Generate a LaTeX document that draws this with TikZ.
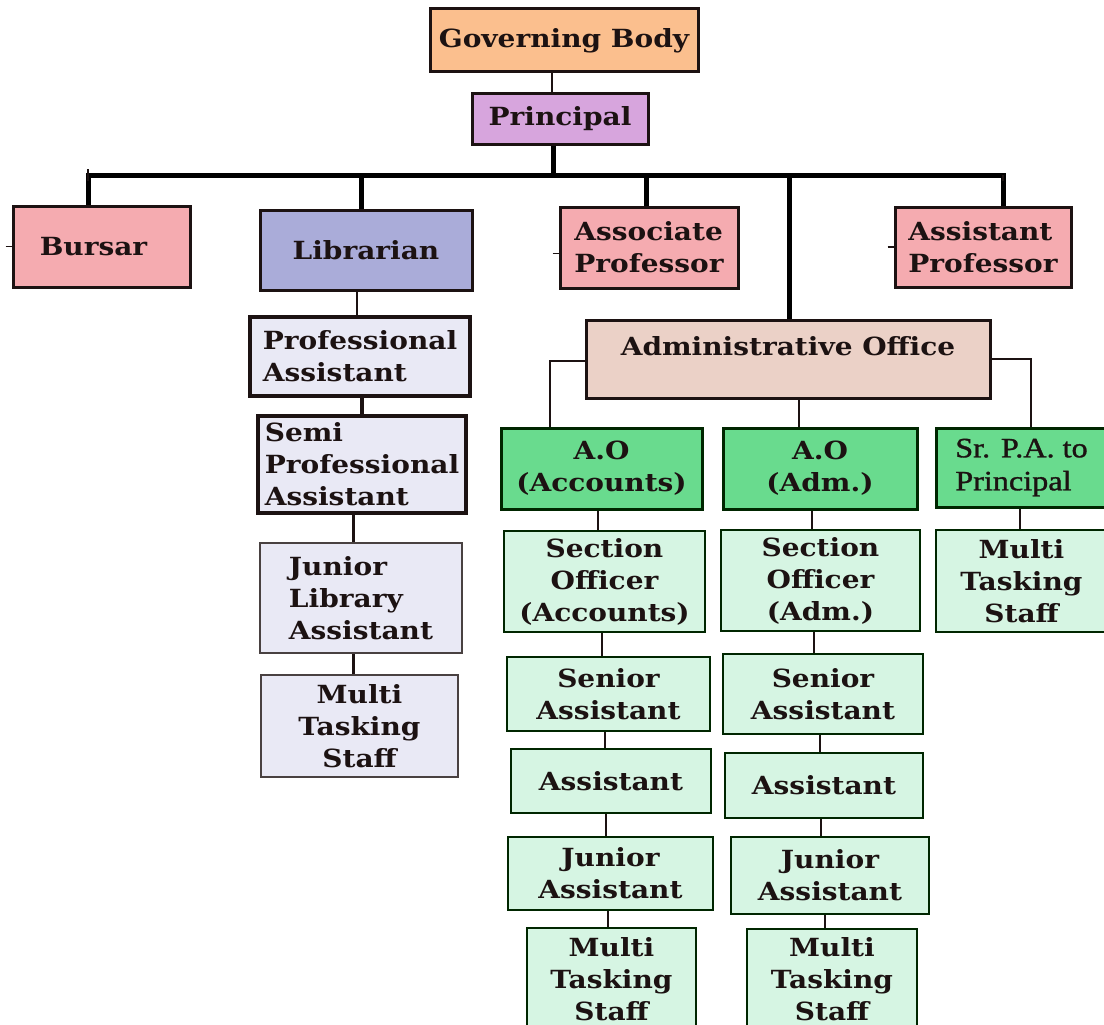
\documentclass[tikz,border=0pt]{standalone}
\usepackage{fontspec}
\setmainfont{DejaVu Serif}[FakeStretch=1.12]
\newfontfamily\tnr{Liberation Serif}[FakeStretch=1.15,FakeBold=1.2]
\definecolor{ink}{HTML}{1C1212}
\definecolor{peach}{HTML}{FBBF8E}
\definecolor{lavender}{HTML}{D7A5DD}
\definecolor{pinkbox}{HTML}{F5ABB0}
\definecolor{periw}{HTML}{AAACD9}
\definecolor{palelav}{HTML}{E9E9F5}
\definecolor{tanbox}{HTML}{EBD1C7}
\definecolor{greenbox}{HTML}{69DB8E}
\definecolor{mint}{HTML}{D6F5E3}
\newcommand\obox[7]{\node[#1,minimum width={(#5)-(#3)},minimum height={(#6)-(#4)}] (#2) at ({((#3)+(#5))/2},{((#4)+(#6))/2}) {#7};}
\tikzset{
  orgbox/.style={draw=ink, line width=3pt, inner sep=1pt, align=center, text=ink,
    font=\fontsize{25}{32}\selectfont\bfseries},
  libthick/.style={orgbox, fill=palelav, line width=4pt},
  libthin/.style={orgbox, fill=palelav, line width=2pt, draw=ink!80},
  greenb/.style={orgbox, fill=greenbox, draw=black!85!green},
  mintb/.style={orgbox, fill=mint, line width=2.6pt, draw=black!85!green},
  conn/.style={draw=ink, line width=2.5pt},
  thinconn/.style={draw=ink, line width=2pt},
  barline/.style={draw=black, line width=5pt},
  stub/.style={draw=ink, line width=1.5pt}
}
\begin{document}
\begin{tikzpicture}[x=1pt,y=-1pt]
\useasboundingbox (0,0) rectangle (1104,1025);
\fill[white] (0,0) rectangle (1104,1025);

% top
\obox{orgbox,fill=peach}{gb}{430}{9}{698}{72}{Governing Body}
\obox{orgbox,fill=lavender}{pr}{472}{94}{648}{144}{Principal}

% second level
\obox{orgbox,fill=pinkbox}{bur}{13}{206}{190}{287}{Bursar\hspace*{16pt}}
\obox{orgbox,fill=periw}{lib}{260}{210}{472}{290}{Librarian}
\obox{orgbox,fill=pinkbox,align=left}{asc}{560}{207}{738}{288}{Associate\\Professor}
\obox{orgbox,fill=pinkbox,align=left}{asp}{895}{207}{1071}{287}{Assistant\\Professor}
\obox{orgbox,fill=tanbox,text height=18pt,text depth=26pt}{adm}{586}{320}{990}{398}{Administrative Office}

% library column
\obox{libthick,align=left}{pa}{250}{317}{470}{396}{Professional\\Assistant}
\obox{libthick,align=left}{spa}{258}{416}{466}{513}{Semi\\Professional\\Assistant}
\obox{libthin,align=left}{jla}{260}{543}{462}{653}{Junior\\Library\\Assistant}
\obox{libthin}{mtl}{261}{675}{458}{777}{Multi\\Tasking\\Staff}

% admin columns
\obox{greenb}{aoa}{501}{428}{702}{509}{A.O\\(Accounts)}
\obox{greenb}{aod}{723}{428}{917}{509}{A.O\\(Adm.)}
\obox{greenb,align=left,font=\fontsize{28}{33}\selectfont\tnr}{srpa}{936}{428}{1107}{507}{Sr. P.A. to\\Principal\hspace*{0pt}}

\obox{mintb}{soa}{504}{531}{705}{632}{Section\\Officer\\(Accounts)}
\obox{mintb}{sod}{721}{530}{920}{631}{Section\\Officer\\(Adm.)}
\obox{mintb}{mts3}{936}{530}{1107}{632}{Multi\\Tasking\\Staff}

\obox{mintb}{sea}{507}{657}{710}{731}{Senior\\Assistant}
\obox{mintb}{sed}{723}{654}{923}{734}{Senior\\Assistant}
\obox{mintb}{asa}{511}{749}{711}{813}{Assistant}
\obox{mintb}{asd}{725}{753}{923}{818}{Assistant}
\obox{mintb}{jua}{508}{837}{713}{910}{Junior\\Assistant}
\obox{mintb}{jud}{731}{837}{929}{914}{Junior\\Assistant}
\obox{mintb}{mta}{527}{928}{696}{1030}{Multi\\Tasking\\Staff}
\obox{mintb}{mtd}{747}{929}{917}{1030}{Multi\\Tasking\\Staff}

% top connectors
\draw[thinconn] ([xshift=-8pt]pr.north) -- ([xshift=-8pt]pr.north |- gb.south);
\coordinate (barL) at (88,175);
\coordinate (barR) at (1003,175);
\coordinate (dLib) at (361,175);
\coordinate (dAsc) at (646,175);
\coordinate (dAdm) at (789,175);
\draw[barline] ([xshift=-7pt]pr.south) -- ([xshift=-7pt]pr.south |- barL);
\draw[barline, line join=miter] (barL |- bur.north) -- (barL) -- (barR) -- (barR |- asp.north);
\draw[barline] (dLib) -- (dLib |- lib.north);
\draw[barline] (dAsc) -- (dAsc |- asc.north);
\draw[barline] (dAdm) -- (dAdm |- adm.north);
\draw[stub] ([yshift=-6pt]barL) -- ([yshift=6pt]barL);
\draw[stub] ([yshift=-6pt]barR) -- (barR);
\draw[stub] ([xshift=-6pt]bur.west) -- (bur.west);
\draw[stub] ([xshift=-6pt,yshift=-6pt]asc.west) -- ([yshift=-6pt]asc.west);
\draw[stub] ([xshift=-6pt]asp.west) -- (asp.west);

% library connectors
\draw[conn] ([xshift=-3pt]pa.north) -- ([xshift=-3pt]pa.north |- lib.south);
\draw[conn, line width=3.5pt] (spa.north) -- (spa.north |- pa.south);
\draw[conn, line width=3pt] ([xshift=-8pt]jla.north) -- ([xshift=-8pt]jla.north |- spa.south);
\draw[conn, line width=3pt] ([xshift=-6pt]mtl.north) -- ([xshift=-6pt]mtl.north |- jla.south);

% admin connectors
\draw[thinconn] ([yshift=-2pt]adm.west) -| ([xshift=-52pt]aoa.north);
\draw[thinconn] ([xshift=-21pt]aod.north) -- ([xshift=-21pt]aod.north |- adm.south);
\draw[thinconn] (adm.east) -| ([xshift=9pt]srpa.north);

\draw[thinconn] ([xshift=-4pt]aoa.south) -- ([xshift=-4pt]aoa.south |- soa.north);
\draw[thinconn] ([xshift=-3pt]soa.south) -- ([xshift=-3pt]soa.south |- sea.north);
\draw[thinconn] ([xshift=-4pt]sea.south) -- ([xshift=-4pt]sea.south |- asa.north);
\draw[thinconn] ([xshift=-5pt]asa.south) -- ([xshift=-5pt]asa.south |- jua.north);
\draw[thinconn] ([xshift=-3pt]jua.south) -- ([xshift=-3pt]jua.south |- mta.north);

\draw[thinconn] ([xshift=-8pt]aod.south) -- ([xshift=-8pt]aod.south |- sod.north);
\draw[thinconn] ([xshift=-7pt]sod.south) -- ([xshift=-7pt]sod.south |- sed.north);
\draw[thinconn] ([xshift=-3pt]sed.south) -- ([xshift=-3pt]sed.south |- asd.north);
\draw[thinconn] ([xshift=-3pt]asd.south) -- ([xshift=-3pt]asd.south |- jud.north);
\draw[thinconn] ([xshift=-5pt]jud.south) -- ([xshift=-5pt]jud.south |- mtd.north);

\draw[thinconn] ([xshift=-2pt]srpa.south) -- ([xshift=-2pt]srpa.south |- mts3.north);
\end{tikzpicture}
\end{document}
